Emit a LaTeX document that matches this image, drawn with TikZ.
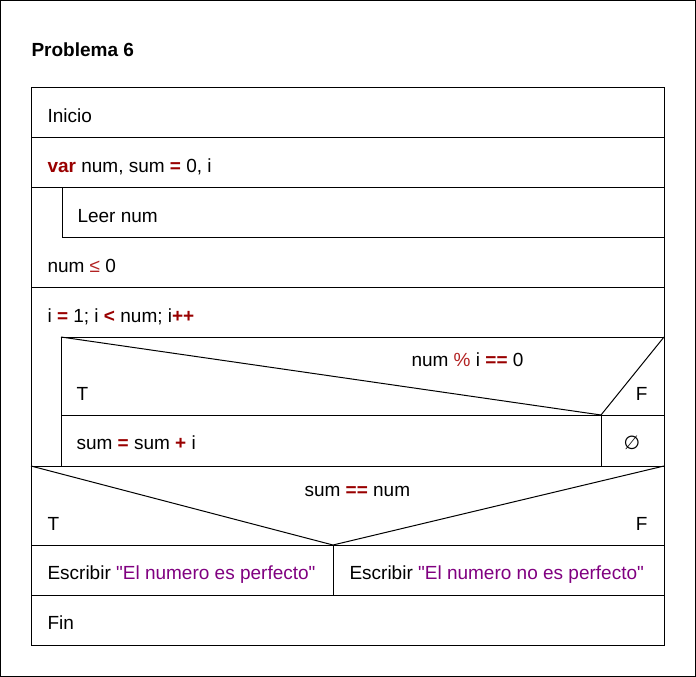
\documentclass[tikz,border=0pt]{standalone}
\usepackage{fontspec}
\setmainfont{Liberation Sans}[Ligatures=TeXOff]
\newfontfamily\symfont{DejaVu Sans}
\definecolor{kwred}{HTML}{990000}
\definecolor{opred}{HTML}{B22222}
\definecolor{strpurple}{HTML}{800080}
\newcommand{\kw}[1]{\textcolor{kwred}{\textbf{#1}}}
\newcommand{\op}[1]{\textcolor{opred}{#1}}
\newcommand{\str}[1]{\textcolor{strpurple}{#1}}

\begin{document}
\begin{tikzpicture}[x=1pt, y=-1pt, line width=1pt,
    txt/.style={anchor=base west, inner sep=0pt, font=\fontsize{19}{23}\selectfont},
    rtxt/.style={anchor=base east, inner sep=0pt, font=\fontsize{19}{23}\selectfont}]
    % Frame and title
    \draw (0.5,0.5) rectangle (695.5,676.5);
    \node[txt, font=\fontsize{19}{23}\selectfont\bfseries] (title) at (31,57) {Problema 6};

    % Outer sequence
    \draw (31,87) rectangle (664,645);
    \draw (31,137) -- (664,137);
    \draw (31,187) -- (664,187);
    \draw (31,287) -- (664,287);
    \draw (31,466) -- (664,466);
    \draw (31,545) -- (664,545);
    \draw (31,595) -- (664,595);

    % Repeat block (Leer num)
    \draw (62,187) -- (62,237) -- (664,237);

    % For block
    \draw (61,466) -- (61,337) -- (664,337);
    \draw (61,415) -- (664,415);
    \draw (601,415) -- (601,466);
    \draw (61,337) -- (601,415) -- (664,337);

    % If block
    \draw (31,466) -- (333,545) -- (664,466);
    \draw (333,545) -- (333,595);

    % Texts
    \node[txt] (inicio) at (47,122) {Inicio};
    \node[txt] (decl) at (47,172) {\kw{var} num, sum \kw{=} 0, i};
    \node[txt] (leer) at (77,222) {Leer num};
    \node[txt] (until) at (47,272) {num \op{≤} 0};
    \node[txt] (loop) at (47,322) {i \kw{=} 1; i \kw{<} num; i\kw{++}};
    \node[txt] (cond1) at (411,366) {num \op{\%} i \kw{==} 0};
    \node[txt] (t1) at (76,400) {T};
    \node[rtxt] (f1) at (648,400) {F};
    \node[txt] (suma) at (76,449) {sum \kw{=} sum \kw{+} i};
    \node[txt, anchor=base, font=\fontsize{19}{23}\selectfont\symfont] (empty) at (632,449) {∅};
    \node[txt] (cond2) at (304,496) {sum \kw{==} num};
    \node[txt] (t2) at (47,530) {T};
    \node[rtxt] (f2) at (648,530) {F};
    \node[txt] (yes) at (47,579) {Escribir \str{"El numero es perfecto"}};
    \node[txt] (no) at (349,579) {Escribir \str{"El numero no es perfecto"}};
    \node[txt] (fin) at (47,629) {Fin};
\end{tikzpicture}
\end{document}
